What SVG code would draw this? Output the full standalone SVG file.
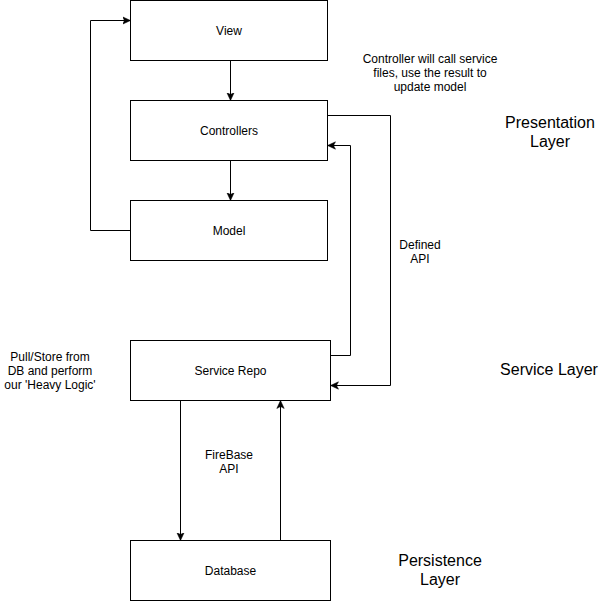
<svg xmlns="http://www.w3.org/2000/svg" width="611" height="601" viewBox="0 0 611 601">
<style>
.box{fill:#fff;stroke:#000;stroke-width:1}
.lbl{font-family:"Liberation Sans",Arial,Helvetica,sans-serif;font-size:12px;fill:#000;text-anchor:middle}
.big{font-family:"Liberation Sans",Arial,Helvetica,sans-serif;font-size:16px;fill:#000;text-anchor:middle}
.edge{fill:none;stroke:#000;stroke-width:1;marker-end:url(#arr)}
</style>
<defs>
<marker id="arr" markerUnits="userSpaceOnUse" markerWidth="10" markerHeight="10" viewBox="0 0 10 10" refX="8" refY="5" orient="auto">
<path d="M0,1.3 L8,5 L0,8.7 L2,5 Z" fill="#000" stroke="#000" stroke-width="0.5"/>
</marker>
</defs>
<rect width="611" height="601" fill="#fff"/>
<g id="connectors">
<path class="edge" d="M230.5,60.5 V100.5"/>
<path class="edge" d="M230.5,160.5 V200.5"/>
<path class="edge" d="M130.5,230.5 H90.5 V20.5 H130.5"/>
<path class="edge" d="M327.5,115.5 H390.5 V385.5 H330.5"/>
<path class="edge" d="M330.5,355.5 H350.5 V145.5 H327.5"/>
<path class="edge" d="M180.5,400.5 V540.5"/>
<path class="edge" d="M280.5,540.5 V400.5"/>
</g>
<g id="view">
<rect class="box" x="130.5" y="0.5" width="197" height="60"/>
<text class="lbl" x="229" y="34.5">View</text>
</g>
<g id="controllers">
<rect class="box" x="130.5" y="100.5" width="197" height="60"/>
<text class="lbl" x="229" y="134.5">Controllers</text>
</g>
<g id="model">
<rect class="box" x="130.5" y="200.5" width="197" height="60"/>
<text class="lbl" x="229" y="234.5">Model</text>
</g>
<g id="service-repo">
<rect class="box" x="130.5" y="340.5" width="200" height="60"/>
<text class="lbl" x="230.5" y="374.5">Service Repo</text>
</g>
<g id="database">
<rect class="box" x="130.5" y="540.5" width="200" height="60"/>
<text class="lbl" x="230.5" y="574.5">Database</text>
</g>
<g id="notes">
<text class="lbl" x="430" y="63">Controller will call service</text>
<text class="lbl" x="430" y="77">files, use the result to</text>
<text class="lbl" x="430" y="91">update model</text>
<text class="lbl" x="420" y="249">Defined</text>
<text class="lbl" x="420" y="263">API</text>
<text class="lbl" x="229" y="459">FireBase</text>
<text class="lbl" x="229" y="473">API</text>
<text class="lbl" x="50" y="361">Pull/Store from</text>
<text class="lbl" x="50" y="375">DB and perform</text>
<text class="lbl" x="50" y="389">our 'Heavy Logic'</text>
<text class="big" x="550" y="128">Presentation</text>
<text class="big" x="550" y="147">Layer</text>
<text class="big" x="549" y="375">Service Layer</text>
<text class="big" x="440" y="566">Persistence</text>
<text class="big" x="440" y="585">Layer</text>
</g>
</svg>
